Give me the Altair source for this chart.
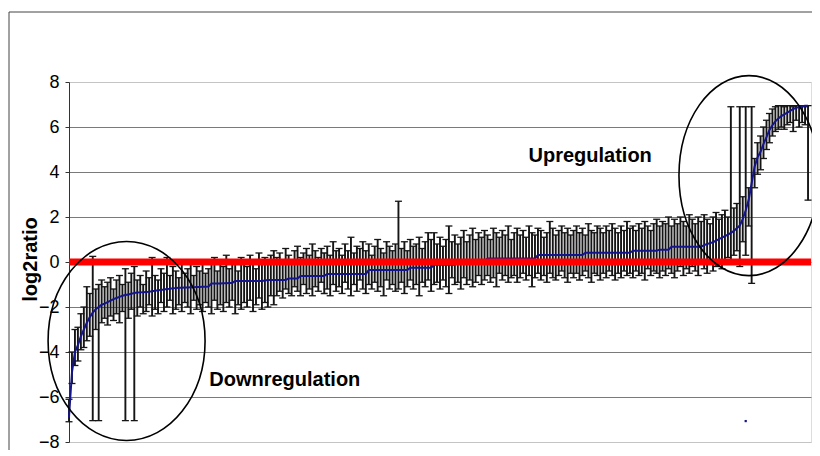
import altair as alt
import pandas as pd

# sorted mean log2 ratio per gene (blue line)
mean = [
    -6.9, -4.9, -4.0, -3.7, -3.3, -3.0, -2.7, -2.45, -2.25, -2.1,
    -2.0, -1.9, -1.85, -1.78, -1.72, -1.65, -1.6, -1.55, -1.5, -1.47,
    -1.44, -1.41, -1.38, -1.36, -1.35, -1.34, -1.33, -1.32, -1.3, -1.28,
    -1.26, -1.24, -1.22, -1.2, -1.19, -1.17, -1.16, -1.14, -1.14, -1.13,
    -1.13, -1.12, -1.12, -1.11, -1.11, -1.1, -1.1, -1.09, -0.96, -0.96,
    -0.95, -0.95, -0.94, -0.94, -0.93, -0.93, -0.84, -0.84, -0.84, -0.84,
    -0.84, -0.84, -0.84, -0.84, -0.84, -0.84, -0.82, -0.8, -0.8, -0.8,
    -0.8, -0.8, -0.8, -0.8, -0.73, -0.73, -0.73, -0.73, -0.62, -0.62,
    -0.62, -0.62, -0.62, -0.62, -0.62, -0.62, -0.62, -0.53, -0.53, -0.53,
    -0.53, -0.53, -0.53, -0.53, -0.53, -0.53, -0.53, -0.53, -0.53, -0.53,
    -0.53, -0.36, -0.36, -0.36, -0.36, -0.36, -0.36, -0.36, -0.36, -0.36,
    -0.36, -0.36, -0.36, -0.36, -0.36, -0.25, -0.25, -0.25, -0.25, -0.25,
    -0.25, -0.25, -0.25, -0.12, -0.12, -0.12, -0.12, -0.12, -0.12, -0.12,
    -0.12, 0.03, 0.03, 0.03, 0.03, 0.03, 0.03, 0.03, 0.03, 0.03,
    0.03, 0.16, 0.16, 0.16, 0.16, 0.16, 0.16, 0.16, 0.16, 0.16,
    0.16, 0.16, 0.16, 0.16, 0.16, 0.16, 0.16, 0.16, 0.31, 0.31,
    0.31, 0.31, 0.31, 0.31, 0.31, 0.31, 0.31, 0.31, 0.31, 0.31,
    0.31, 0.31, 0.31, 0.31, 0.41, 0.41, 0.41, 0.41, 0.41, 0.41,
    0.41, 0.41, 0.41, 0.41, 0.41, 0.41, 0.41, 0.41, 0.41, 0.41,
    0.5, 0.5, 0.5, 0.5, 0.5, 0.5, 0.5, 0.5, 0.5, 0.55,
    0.55, 0.55, 0.55, 0.68, 0.68, 0.68, 0.68, 0.68, 0.68, 0.68,
    0.68, 0.68, 0.68, 0.68, 0.75, 0.8, 0.84, 0.88, 0.95, 1.02,
    1.08, 1.15, 1.22, 1.29, 1.38, 1.5, 1.62, 1.9, 2.3, 2.76,
    3.5, 4.24, 4.65, 4.9, 5.25, 5.55, 5.87, 6.08, 6.25, 6.38,
    6.48, 6.56, 6.64, 6.72, 6.8, 6.85, 6.89, 6.92, 6.94, 6.95,
]

# upper end of each error bar
upper = [
    -6.1, -4.0, -3.0, -2.9, -2.3, -2.0, -1.1, -1.4, 0.25, -1.2,
    -1.0, -0.8, -1.1, -0.9, -0.7, -1.2, -0.8, -0.6, -1.0, -0.3,
    -0.9, -0.5, -0.2, -0.8, -0.6, -1.0, -0.4, -0.7, 0.2, -0.6,
    -0.8, -0.3, -0.5, 0.2, -0.6, -0.2, -0.4, -0.7, -0.1, -0.5,
    -0.3, 0.0, -0.6, -0.2, -0.4, 0.1, -0.5, -0.3, -0.1, 0.2,
    -0.4, 0.0, -0.2, 0.3, -0.3, -0.1, 0.1, -0.4, 0.2, 0.0,
    -0.2, 0.3, 0.1, -0.3, 0.4, 0.0, 0.2, -0.1, 0.3, 0.5,
    0.2, 0.4, 0.0, 0.6, 0.3, 0.1, 0.5, 0.7, 0.2, 0.4,
    0.6, 0.3, 0.8, 0.5, 0.2, 0.6, 0.4, 0.7, 0.3, 0.9,
    0.5, 0.6, 0.3, 0.8, 0.5, 1.1, 0.4, 0.7, 0.6, 0.9,
    0.5, 0.8, 0.3, 0.7, 1.0, 0.6, 0.4, 0.9, 0.7, 0.5,
    0.8, 2.7, 0.6, 0.9, 0.5, 1.0, 0.7, 0.8, 1.1, 0.6,
    0.9, 1.3, 1.0, 1.3, 0.8, 1.1, 0.7, 1.0, 1.6, 0.9,
    1.2, 0.8, 1.1, 1.4, 0.9, 1.2, 1.5, 1.0, 1.3, 1.1,
    1.4, 1.2, 1.0, 1.5, 1.3, 1.1, 1.4, 1.2, 1.6, 1.0,
    1.3, 1.5, 1.2, 1.4, 1.1, 1.6, 1.3, 1.2, 1.5, 1.4,
    1.1, 1.3, 1.8, 1.5, 1.2, 1.4, 1.6, 1.3, 1.5, 1.2,
    1.4, 1.6, 1.3, 1.5, 1.2, 1.7, 1.4, 1.3, 1.6, 1.5,
    1.3, 1.6, 1.4, 1.7, 1.5, 1.3, 1.6, 1.4, 1.8, 1.5,
    1.6, 1.4, 1.7, 1.5, 1.8, 1.6, 1.4, 1.7, 1.9, 1.6,
    1.8, 1.7, 2.0, 1.6, 1.9, 1.7, 2.0, 1.8, 1.6, 2.1,
    1.9, 1.7, 2.0, 1.8, 2.1, 1.9, 1.7, 2.0, 2.2, 1.9,
    2.1, 2.3, 2.0, 6.9, 2.4, 2.6, 6.9, 2.9, 6.9, 3.3,
    6.9, 4.6, 5.3, 5.6, 6.0, 6.3, 6.6, 6.8, 6.9, 6.95,
    6.95, 6.9, 6.95, 6.95, 6.9, 6.95, 6.95, 6.95, 6.9, 6.95,
]

# lower end of each error bar
lower = [
    -7.1, -5.4, -4.6, -4.4, -3.9, -3.8, -3.5, -3.3, -7.05, -3.0,
    -7.05, -2.7, -2.5, -2.8, -2.4, -2.6, -2.3, -2.7, -2.2, -7.05,
    -2.5, -2.1, -7.05, -2.4, -2.0, -2.3, -2.2, -1.9, -2.4, -2.1,
    -2.3, -1.8, -2.2, -2.0, -1.7, -2.3, -2.1, -1.9, -2.2, -1.8,
    -2.0, -2.3, -1.7, -2.1, -1.9, -2.2, -1.8, -2.0, -2.3, -1.7,
    -2.1, -1.9, -2.2, -1.8, -2.0, -1.7, -2.3, -1.9, -2.1, -1.8,
    -2.0, -1.7, -2.2, -1.9, -1.6, -2.1, -1.8, -2.0, -1.5, -1.9,
    -1.5, -1.3, -1.6, -1.2, -1.4, -1.5, -1.1, -1.3, -1.5, -1.0,
    -1.4, -1.2, -1.5, -1.1, -1.3, -0.9, -1.4, -1.2, -1.5, -1.0,
    -1.3, -1.1, -1.4, -0.9, -1.2, -1.5, -1.0, -1.3, -0.8, -1.2,
    -1.4, -1.0, -1.2, -0.9, -1.3, -1.1, -1.5, -0.8, -1.2, -1.0,
    -1.3, -1.2, -0.9, -1.4, -1.1, -0.8, -1.2, -1.0, -1.5, -0.9,
    -1.1, -0.8, -1.3, -1.0, -0.9, -1.2, -0.8, -1.1, -1.4, -0.7,
    -1.0, -0.9, -1.2, -0.7, -1.0, -0.8, -1.1, -0.9, -0.6, -1.0,
    -0.8, -0.6, -0.9, -0.7, -1.1, -0.5, -0.8, -0.6, -0.9, -0.7,
    -0.6, -0.9, -0.7, -0.5, -0.8, -0.6, -1.1, -0.7, -0.5, -0.8,
    -0.6, -0.9, -0.5, -0.7, -0.8, -0.6, -0.4, -0.7, -0.9, -0.5,
    -0.7, -0.5, -0.8, -0.6, -0.4, -0.7, -0.9, -0.5, -0.6, -0.8,
    -0.5, -0.7, -0.4, -0.6, -0.8, -0.5, -0.7, -0.4, -0.6, -0.5,
    -0.7, -0.4, -0.6, -0.5, -0.8, -0.3, -0.6, -0.4, -0.5, -0.7,
    -0.4, -0.6, -0.3, -0.5, -0.7, -0.4, -0.2, -0.6, -0.3, -0.5,
    -0.2, -0.4, -0.6, -0.1, -0.3, -0.5, 0.0, -0.4, -0.2, 0.1,
    -0.3, 0.0, 0.2, 0.0, 0.3, 0.5, -0.2, 0.9, 0.3, 1.6,
    -0.95, 3.3, 3.9, 4.1, 4.6, 5.0, 5.3, 5.6, 5.8, 5.9,
    6.0, 5.9, 6.1, 6.2, 5.8, 6.3, 6.0, 6.2, 6.1, 2.75,
]

y_ticks = [-8, -6, -4, -2, 0, 2, 4, 6, 8]

# annotations: label, x position (gene index), y position (log2ratio)
ann_text = ["Upregulation", "Downregulation"]
ann_x = [175.6, 72.7]
ann_y = [4.44, -5.51]

# circled regions: centre (gene index, log2ratio), radii in pixels
ell_x = [229.1, 19.4]
ell_y = [3.84, -3.51]
ell_rx = [70, 78.5]
ell_ry = [100, 99.5]

# stray marker of the source chart
stray_x = [228]
stray_y = [-7.07]

N = len(mean)
W, H = 742, 360
FONT = "Liberation Sans"

df = pd.DataFrame({"i": list(range(N)), "mean": mean, "hi": upper, "lo": lower})

xs = alt.Scale(domain=[0, N], nice=False, zero=False)
ys = alt.Scale(domain=[-8, 8], nice=False, zero=False)

yaxis = alt.Axis(
    values=y_ticks, title="log2ratio", grid=True,
    gridColor={"condition": {"test": "abs(datum.value) == 8", "value": "#c4c4c4"}, "value": "#7a7a7a"},
    gridWidth=1.2, domainColor="#333333", domainWidth=1, tickColor="#333333", tickSize=4,
    labelFont=FONT, labelFontSize=18, labelColor="black", labelPadding=6,
    titleFont=FONT, titleFontSize=20, titleFontWeight="bold", titleColor="black",
    titleAngle=-90, titleX=-39, titleY=H / 2 - 3, titleAlign="center", titleBaseline="middle",
)

base = alt.Chart(df)
X = alt.X("i:Q", scale=xs, axis=None)

BAR = "#151515"
bars = base.mark_rule(color=BAR, strokeWidth=1.9).encode(
    x=X, y=alt.Y("lo:Q", scale=ys, axis=yaxis), y2="hi:Q"
)
cap_hi = base.mark_tick(orient="horizontal", size=7, thickness=1.3, color=BAR, opacity=1).encode(
    x=X, y=alt.Y("hi:Q", scale=ys)
)
cap_lo = base.mark_tick(orient="horizontal", size=7, thickness=1.3, color=BAR, opacity=1).encode(
    x=X, y=alt.Y("lo:Q", scale=ys)
)
line = base.mark_line(color="#14148c", strokeWidth=2).encode(
    x=X, y=alt.Y("mean:Q", scale=ys)
)

stray = alt.Chart(pd.DataFrame({"x": stray_x, "y": stray_y})).mark_square(
    size=5, color="#14148c", opacity=1
).encode(x=alt.X("x:Q", scale=xs), y=alt.Y("y:Q", scale=ys))

zero = alt.Chart(pd.DataFrame({"y": [0]})).mark_rule(color="#ff0000", strokeWidth=7).encode(
    y=alt.Y("y:Q", scale=ys)
)

texts = alt.Chart(pd.DataFrame({"t": ann_text, "x": ann_x, "y": ann_y})).mark_text(
    font=FONT, fontSize=20, fontWeight="bold", color="black", align="center", baseline="alphabetic"
).encode(x=alt.X("x:Q", scale=xs), y=alt.Y("y:Q", scale=ys), text="t:N")

k = 0.5523
ellipses = []
for cx, cy, rx, ry in zip(ell_x, ell_y, ell_rx, ell_ry):
    a = rx / ry
    path = (
        f"M {a:.4f} 0 C {a:.4f} {k} {k*a:.4f} 1 0 1 "
        f"C {-k*a:.4f} 1 {-a:.4f} {k} {-a:.4f} 0 "
        f"C {-a:.4f} {-k} {-k*a:.4f} -1 0 -1 "
        f"C {k*a:.4f} -1 {a:.4f} {-k} {a:.4f} 0 Z"
    )
    ellipses.append(
        alt.Chart(pd.DataFrame({"x": [cx], "y": [cy]})).mark_point(
            shape=path, size=(2 * ry) ** 2, filled=False, stroke="black",
            strokeWidth=1.6, opacity=1
        ).encode(x=alt.X("x:Q", scale=xs), y=alt.Y("y:Q", scale=ys))
    )

frame_src = pd.DataFrame({"a": [0]})
frame_v = alt.Chart(frame_src).mark_rule(color="#444444", strokeWidth=1).encode(
    x=alt.value(-60), y=alt.value(-70), y2=alt.value(H + 40)
)
frame_h = alt.Chart(frame_src).mark_rule(color="#444444", strokeWidth=1).encode(
    x=alt.value(-60), x2=alt.value(W + 40), y=alt.value(-70)
)

chart = alt.layer(
    bars, cap_hi, cap_lo, line, stray, zero, *ellipses, texts, frame_v, frame_h
).properties(
    width=W, height=H, autosize="none",
    padding={"left": 61, "top": 74, "right": 1, "bottom": 8},
).configure_view(stroke=None).configure(background="white")

chart.save("out.html", embed_options={"renderer": "svg", "actions": False})
